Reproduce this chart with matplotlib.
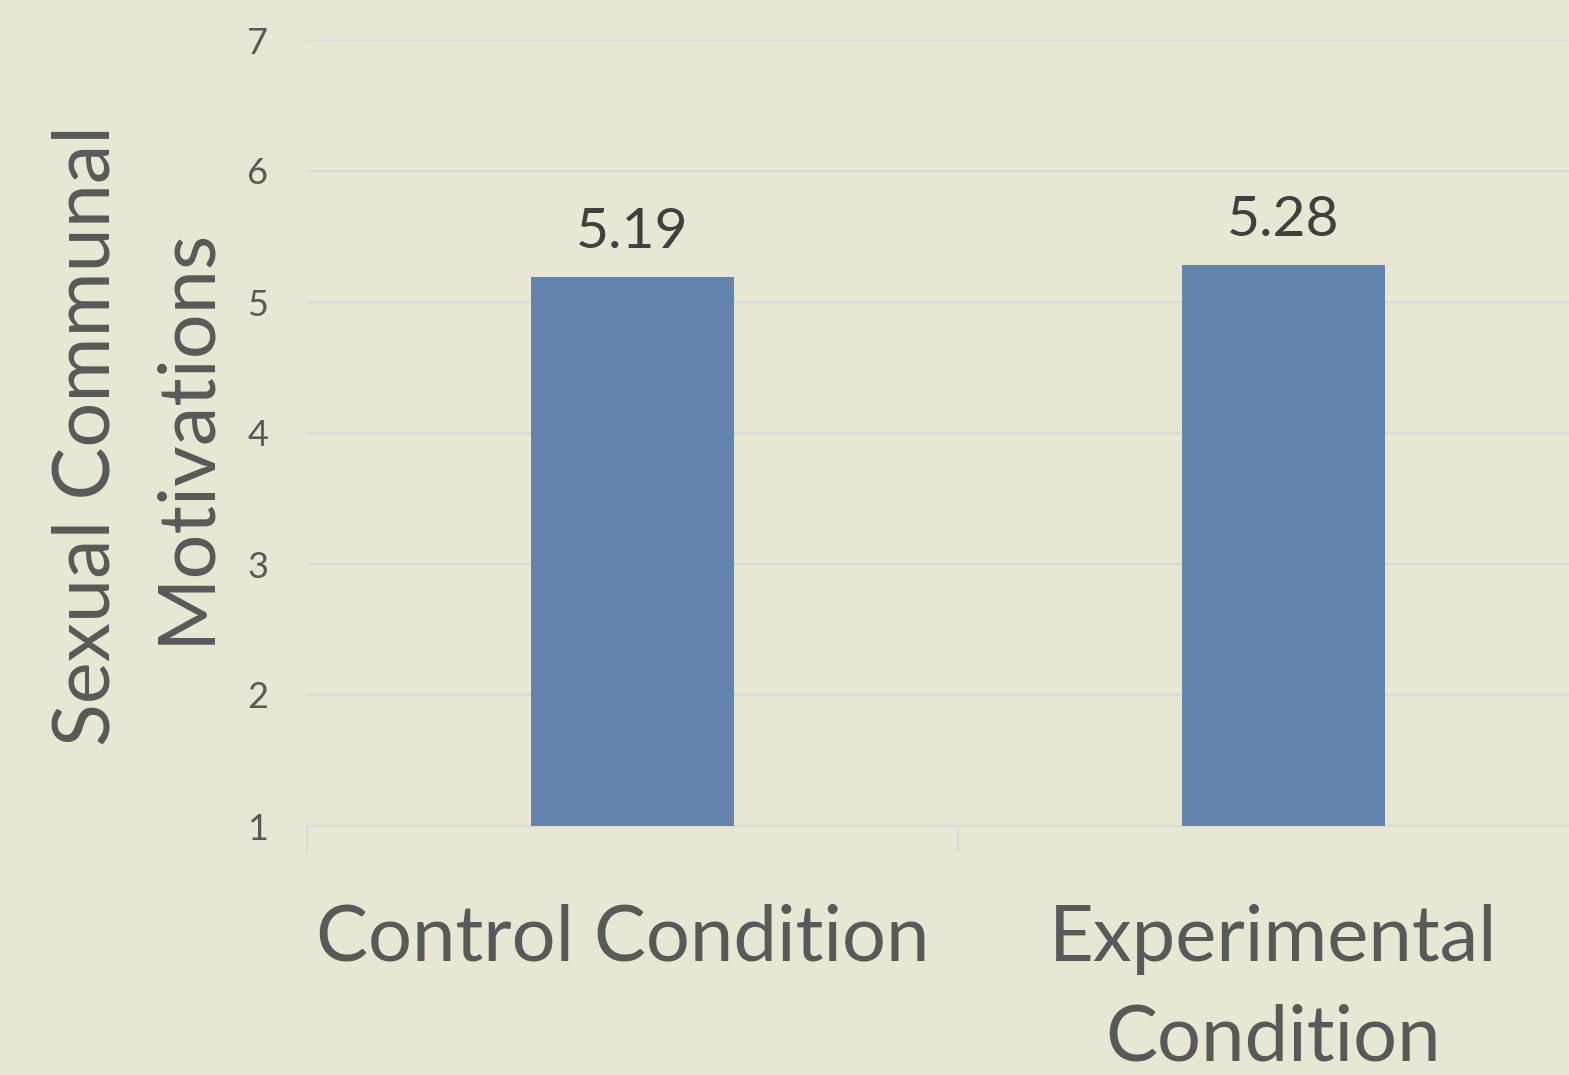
import matplotlib.pyplot as plt
import matplotlib.transforms as mtransforms
import numpy as np

BG = '#E8E7D4'
BAR = '#6283AE'
GRID = '#D9D9D9'
TEXT = '#595959'
VAL = '#404040'

categories = ['Control Condition', 'Experimental\nCondition']
values = [5.19, 5.28]
yticks = [1, 2, 3, 4, 5, 6, 7]

plt.rcParams['font.family'] = ['Lato', 'DejaVu Sans']

fig = plt.figure(figsize=(15.69, 10.75), dpi=100, facecolor=BG)
ax = fig.add_axes([307 / 1569, 249 / 1075, 1302 / 1569, 786 / 1075])
ax.set_facecolor(BG)

x = np.arange(len(categories))
bars = ax.bar(x, np.array(values) - 1, bottom=1, width=0.313, color=BAR, zorder=3)

# labels above bars
for xi, v in zip(x, values):
    ax.annotate(f'{v:.2f}', (xi, v), xytext=(0, 14), textcoords='offset points',
                ha='center', va='bottom', fontsize=41, color=VAL)

ax.set_xlim(-0.5, 1.5)
ax.set_ylim(1, 7)
ax.set_yticks(yticks)
ax.set_yticklabels([str(t) for t in yticks])
ax.tick_params(axis='y', length=0, labelsize=26, labelcolor=TEXT, pad=28)
ax.yaxis.grid(True, color=GRID, linewidth=1.5, zorder=0)

ax.set_xticks(x)
ax.set_xticklabels(categories, fontsize=56, color=TEXT, linespacing=1.5)
ax.set_xticks([-0.5, 0.5, 1.5], minor=True)
ax.tick_params(axis='x', which='major', length=0, pad=56)
ax.tick_params(axis='x', which='minor', length=19, width=1.5, color=GRID)

# category labels sit a little left of the bar centres
shift = mtransforms.ScaledTranslation(-10 / 100, 0, fig.dpi_scale_trans)
for lbl in ax.get_xticklabels():
    lbl.set_transform(lbl.get_transform() + shift)

for s in ['top', 'right', 'left']:
    ax.spines[s].set_visible(False)
ax.spines['bottom'].set_color(GRID)
ax.spines['bottom'].set_linewidth(1.5)

fig.text(137 / 1569, 1 - 435 / 1075, 'Sexual Communal\nMotivations', rotation=90,
         ha='center', va='center', fontsize=57, color=TEXT, linespacing=1.46,
         multialignment='center')

fig.savefig('out.png', dpi=100, facecolor=BG)
